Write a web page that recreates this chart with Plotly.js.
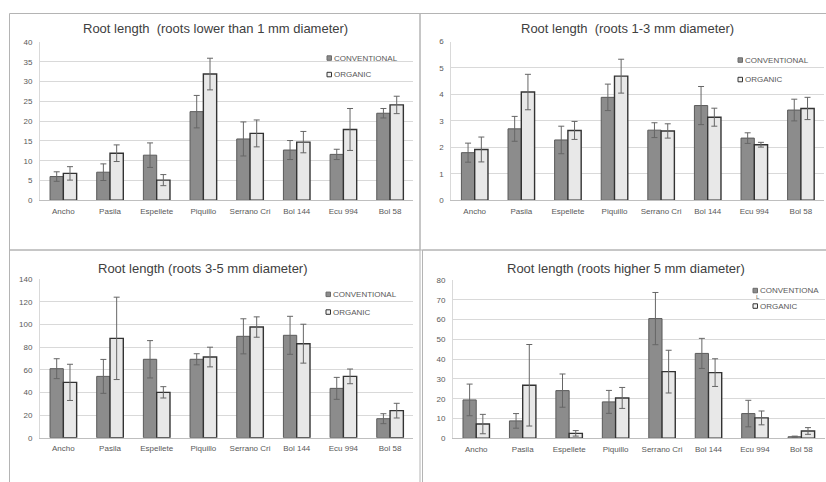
<!DOCTYPE html>
<html>
<head>
<meta charset="utf-8">
<script src="https://cdn.plot.ly/plotly-3.0.1.min.js"></script>
<style>html,body{margin:0;padding:0;background:#fff;}#chart{width:826px;height:482px;}</style>
</head>
<body>
<div id="chart"></div>
<script>
// ---------- DATA ----------
const categories = ['Ancho','Pasila','Espellete','Piquillo','Serrano Cri','Bol 144','Ecu 994','Bol 58'];
const seriesNames = ['CONVENTIONAL','ORGANIC'];

const titles = [
  'Root length  (roots lower than 1 mm diameter)',
  'Root length  (roots 1-3 mm diameter)',
  'Root length (roots 3-5 mm diameter)',
  'Root length (roots higher 5 mm diameter)'
];

const p1Conv    = [6.0, 7.1, 11.4, 22.4, 15.5, 12.7, 11.6, 22.0];
const p1ConvErr = [1.2, 2.1, 3.1, 4.1, 4.3, 2.4, 1.3, 1.2];
const p1Org     = [6.8, 11.9, 5.1, 31.9, 16.9, 14.7, 17.9, 24.1];
const p1OrgErr  = [1.7, 2.1, 1.4, 4.0, 3.4, 2.7, 5.3, 2.2];

const p2Conv    = [1.80, 2.70, 2.28, 3.89, 2.65, 3.58, 2.35, 3.41];
const p2ConvErr = [0.36, 0.47, 0.52, 0.50, 0.28, 0.72, 0.20, 0.41];
const p2Org     = [1.92, 4.09, 2.64, 4.69, 2.62, 3.14, 2.10, 3.47];
const p2OrgErr  = [0.47, 0.67, 0.34, 0.64, 0.27, 0.34, 0.09, 0.42];

const p3Conv    = [61.0, 54.2, 69.3, 69.3, 89.6, 90.5, 43.6, 16.8];
const p3ConvErr = [8.8, 15.0, 16.5, 4.9, 15.5, 16.8, 9.7, 4.4];
const p3Org     = [48.9, 87.8, 40.1, 71.3, 97.8, 83.1, 54.2, 23.9];
const p3OrgErr  = [16.0, 36.4, 5.0, 8.7, 9.0, 17.2, 6.5, 6.5];

const p4Conv    = [19.4, 8.8, 24.1, 18.4, 60.5, 42.9, 12.5, 0.8];
const p4ConvErr = [8.0, 3.7, 8.4, 5.8, 13.2, 7.6, 6.7, 0.3];
const p4Org     = [7.2, 26.8, 2.5, 20.4, 33.7, 33.2, 10.3, 3.7];
const p4OrgErr  = [4.9, 20.6, 1.4, 5.3, 10.8, 7.0, 3.5, 1.7];

const yMax  = [40, 6, 140, 80];
const yStep = [5, 1, 20, 10];

// ---------- LAYOUT HELPERS ----------
const W = 826, H = 482;
const px = v => v / W;
const py = v => 1 - v / H;
const FONT = '"Liberation Sans", Arial, sans-serif';

const panels = [
  {conv: p1Conv, convErr: p1ConvErr, org: p1Org, orgErr: p1OrgErr,
   x0: 40, x1: 413.4, yTop: 42, yBot: 200.3, titleX: 215, titleY: 28,
   legX: 327, legY1: 58, legY2: 74.5},
  {conv: p2Conv, convErr: p2ConvErr, org: p2Org, orgErr: p2OrgErr,
   x0: 451.4, x1: 824.2, yTop: 41.5, yBot: 200.3, titleX: 627, titleY: 28,
   legX: 738, legY1: 60, legY2: 79.5},
  {conv: p3Conv, convErr: p3ConvErr, org: p3Org, orgErr: p3OrgErr,
   x0: 40, x1: 413.4, yTop: 279.3, yBot: 437.7, titleX: 203, titleY: 268,
   legX: 326, legY1: 294.3, legY2: 312},
  {conv: p4Conv, convErr: p4ConvErr, org: p4Org, orgErr: p4OrgErr,
   x0: 453, x1: 824.6, yTop: 280, yBot: 438.3, titleX: 626, titleY: 268,
   legX: 753, legY1: 290.5, legY2: 306}
];

const convColor = '#8c8c8c';
const orgColor = '#e8e8e8';

const traces = [];
const layout = {
  width: W, height: H,
  margin: {l: 0, r: 0, t: 0, b: 0},
  paper_bgcolor: '#ffffff',
  plot_bgcolor: 'rgba(0,0,0,0)',
  showlegend: false,
  barmode: 'group',
  bargap: 0.43,
  bargroupgap: 0,
  font: {family: FONT, color: '#595959'},
  annotations: [],
  shapes: []
};

panels.forEach((p, i) => {
  const n = i + 1;
  const xa = n === 1 ? 'x' : 'x' + n;
  const ya = n === 1 ? 'y' : 'y' + n;
  const xKey = n === 1 ? 'xaxis' : 'xaxis' + n;
  const yKey = n === 1 ? 'yaxis' : 'yaxis' + n;

  traces.push({
    type: 'bar', name: seriesNames[0], x: categories, y: p.conv,
    xaxis: xa, yaxis: ya,
    marker: {color: convColor, line: {color: '#5a5a5a', width: 1}},
    error_y: {type: 'data', array: p.convErr, visible: true, color: '#666666', thickness: 1, width: 3}
  });
  traces.push({
    type: 'bar', name: seriesNames[1], x: categories, y: p.org,
    xaxis: xa, yaxis: ya,
    marker: {color: orgColor, line: {color: '#333333', width: 1.4}},
    error_y: {type: 'data', array: p.orgErr, visible: true, color: '#666666', thickness: 1, width: 3}
  });

  layout[xKey] = {
    domain: [px(p.x0), px(p.x1)],
    anchor: ya,
    type: 'category',
    showgrid: false, zeroline: false,
    showline: true, linecolor: '#bfbfbf', linewidth: 1,
    ticks: 'outside', ticklen: 3, tickcolor: 'rgba(0,0,0,0)',
    tickfont: {size: 8, color: '#595959', family: FONT},
    fixedrange: true
  };
  layout[yKey] = {
    domain: [py(p.yBot), py(p.yTop)],
    anchor: xa,
    range: [0, yMax[i]],
    dtick: yStep[i],
    showgrid: true, gridcolor: '#d9d9d9', gridwidth: 1,
    zeroline: false,
    showline: true, linecolor: '#d9d9d9',
    ticks: '', ticklabelstandoff: 5,
    tickfont: {size: 8, color: '#595959', family: FONT},
    fixedrange: true
  };

  // panel title
  layout.annotations.push({
    xref: 'paper', yref: 'paper', x: px(p.titleX), y: py(p.titleY),
    xanchor: 'center', yanchor: 'middle', showarrow: false,
    text: titles[i], font: {size: 13, color: '#404040', family: FONT}
  });

  // legend (swatch + label)
  const legLabels = [i === 3 ? 'CONVENTIONA' : seriesNames[0], seriesNames[1]];
  const legYs = [p.legY1, p.legY2];
  [0, 1].forEach(k => {
    layout.shapes.push({
      type: 'rect', xref: 'paper', yref: 'paper',
      x0: px(p.legX), x1: px(p.legX + 4.5),
      y0: py(legYs[k] + 2.3), y1: py(legYs[k] - 2.2),
      fillcolor: k === 0 ? convColor : '#f2f2f2',
      line: {color: k === 0 ? '#6a6a6a' : '#333333', width: 1}
    });
    layout.annotations.push({
      xref: 'paper', yref: 'paper', x: px(p.legX + 5), y: py(legYs[k]),
      xanchor: 'left', yanchor: 'middle', showarrow: false,
      text: legLabels[k], font: {size: 8, color: '#595959', family: FONT}
    });
  });
  if (i === 3) {
    layout.annotations.push({
      xref: 'paper', yref: 'paper', x: px(p.legX + 0.5), y: py(p.legY1 + 6.5),
      xanchor: 'left', yanchor: 'middle', showarrow: false,
      text: 'L', font: {size: 6, color: '#595959', family: FONT}
    });
  }
});

// chart-area borders of the four panels
const border = {color: '#b4b4b4', width: 1};
[
  [9.5, 13.5, 420, 250],
  [420, 13.5, 830, 250],
  [9.5, 250, 420, 490],
  [422.5, 250, 830, 490]
].forEach(b => {
  layout.shapes.push({
    type: 'rect', xref: 'paper', yref: 'paper', layer: 'below',
    x0: px(b[0]), x1: px(b[2]), y0: py(b[3]), y1: py(b[1]),
    fillcolor: 'rgba(0,0,0,0)', line: border
  });
});

Plotly.newPlot('chart', traces, layout, {staticPlot: true, displayModeBar: false});
</script>
</body>
</html>
